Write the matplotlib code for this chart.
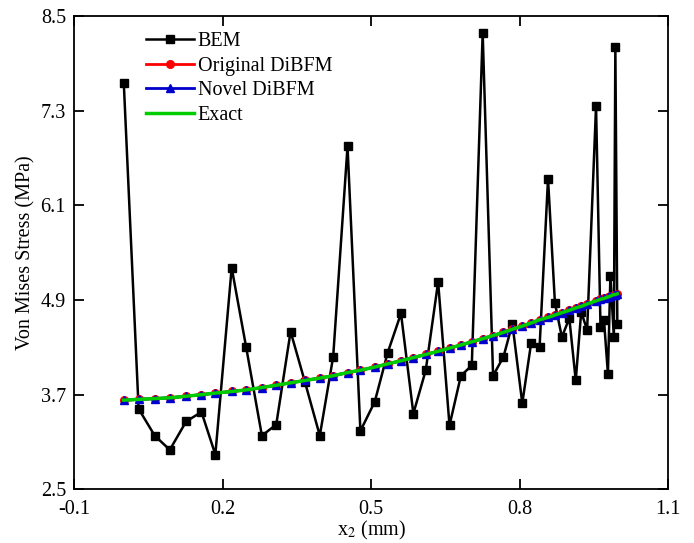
import numpy as np
import matplotlib
matplotlib.use('Agg')
import matplotlib.pyplot as plt

plt.rcParams['font.family'] = ['Liberation Serif', 'DejaVu Serif']
plt.rcParams['mathtext.fontset'] = 'stix'

# node positions along x2 (mm)
x2 = [0.000, 0.030, 0.0625, 0.093, 0.126, 0.157, 0.185, 0.218, 0.247, 0.279,
      0.308, 0.337, 0.366, 0.396, 0.423, 0.452, 0.478, 0.507, 0.533, 0.560,
      0.585, 0.610, 0.635, 0.658, 0.681, 0.703, 0.725, 0.746, 0.767, 0.785,
      0.805, 0.823, 0.840, 0.857, 0.871, 0.885, 0.900, 0.913, 0.924, 0.936,
      0.954, 0.963, 0.970, 0.978, 0.983, 0.990, 0.993, 0.997]

bem = [7.66, 3.52, 3.18, 3.00, 3.36, 3.48, 2.94, 5.31, 4.31, 3.18,
       3.32, 4.50, 3.86, 3.18, 4.18, 6.85, 3.24, 3.61, 4.23, 4.73,
       3.46, 4.01, 5.13, 3.31, 3.94, 4.07, 8.29, 3.94, 4.18, 4.60,
       3.59, 4.36, 4.31, 6.44, 4.86, 4.43, 4.67, 3.88, 4.75, 4.52,
       7.36, 4.56, 4.65, 3.96, 5.21, 4.43, 8.11, 4.60]

original = [3.63, 3.64, 3.65, 3.66, 3.68, 3.70, 3.72, 3.74, 3.76, 3.79,
            3.82, 3.85, 3.88, 3.91, 3.94, 3.98, 4.01, 4.05, 4.09, 4.13,
            4.17, 4.21, 4.25, 4.29, 4.33, 4.37, 4.41, 4.45, 4.49, 4.53,
            4.57, 4.61, 4.65, 4.68, 4.71, 4.74, 4.77, 4.80, 4.82, 4.85,
            4.89, 4.91, 4.92, 4.94, 4.95, 4.97, 4.97, 4.98]

novel = [3.63, 3.64, 3.65, 3.66, 3.68, 3.70, 3.72, 3.74, 3.76, 3.79,
         3.82, 3.85, 3.88, 3.91, 3.94, 3.98, 4.01, 4.05, 4.09, 4.13,
         4.17, 4.21, 4.25, 4.29, 4.33, 4.37, 4.41, 4.45, 4.49, 4.53,
         4.57, 4.61, 4.65, 4.68, 4.71, 4.74, 4.77, 4.80, 4.82, 4.85,
         4.89, 4.91, 4.92, 4.94, 4.95, 4.97, 4.97, 4.98]

exact = [3.63, 3.64, 3.65, 3.66, 3.68, 3.70, 3.72, 3.74, 3.76, 3.79,
         3.82, 3.85, 3.88, 3.91, 3.94, 3.98, 4.01, 4.05, 4.09, 4.13,
         4.17, 4.21, 4.25, 4.29, 4.33, 4.37, 4.41, 4.45, 4.49, 4.53,
         4.57, 4.61, 4.65, 4.68, 4.71, 4.74, 4.77, 4.80, 4.82, 4.85,
         4.89, 4.91, 4.92, 4.94, 4.95, 4.97, 4.97, 4.98]

xticks = [-0.1, 0.2, 0.5, 0.8, 1.1]
yticks = [2.5, 3.7, 4.9, 6.1, 7.3, 8.5]

fig = plt.figure(figsize=(6.94, 5.43), dpi=100)
ax = fig.add_axes([0.107, 0.099, 0.856, 0.871])

ax.plot(x2, bem, color='black', lw=1.8, marker='s', ms=6, label='BEM')
ax.plot(x2, original, color='red', lw=2, marker='o', ms=5.5, label='Original DiBFM')
ax.plot(x2, novel, color='#0000cc', lw=2, marker='^', ms=5.5, label='Novel DiBFM')
ax.plot(x2, exact, color='#00cc00', lw=2.5, label='Exact')

ax.set_xlim(-0.1, 1.1)
ax.set_ylim(2.5, 8.5)
ax.set_xticks(xticks)
ax.set_yticks(yticks)
ax.set_xticklabels(['-0.1', '0.2', '0.5', '0.8', '1.1'])
ax.tick_params(direction='in', length=7, width=1.3, labelsize=14.5,
               top=True, right=True)
ax.tick_params(axis='x', pad=8)
ax.tick_params(axis='y', pad=6)
for s in ax.spines.values():
    s.set_linewidth(1.3)

ax.set_xlabel(r'x$_2$ (mm)', fontsize=14.5, labelpad=0)
ax.set_ylabel('Von Mises Stress (MPa)', fontsize=14.5, labelpad=4)

ax.legend(loc='upper left', bbox_to_anchor=(0.12, 0.967), frameon=False,
          fontsize=14.5, numpoints=1, handlelength=2.4, handletextpad=0.2,
          labelspacing=0.28, borderpad=0, borderaxespad=0)

plt.savefig('out.png', dpi=100)
